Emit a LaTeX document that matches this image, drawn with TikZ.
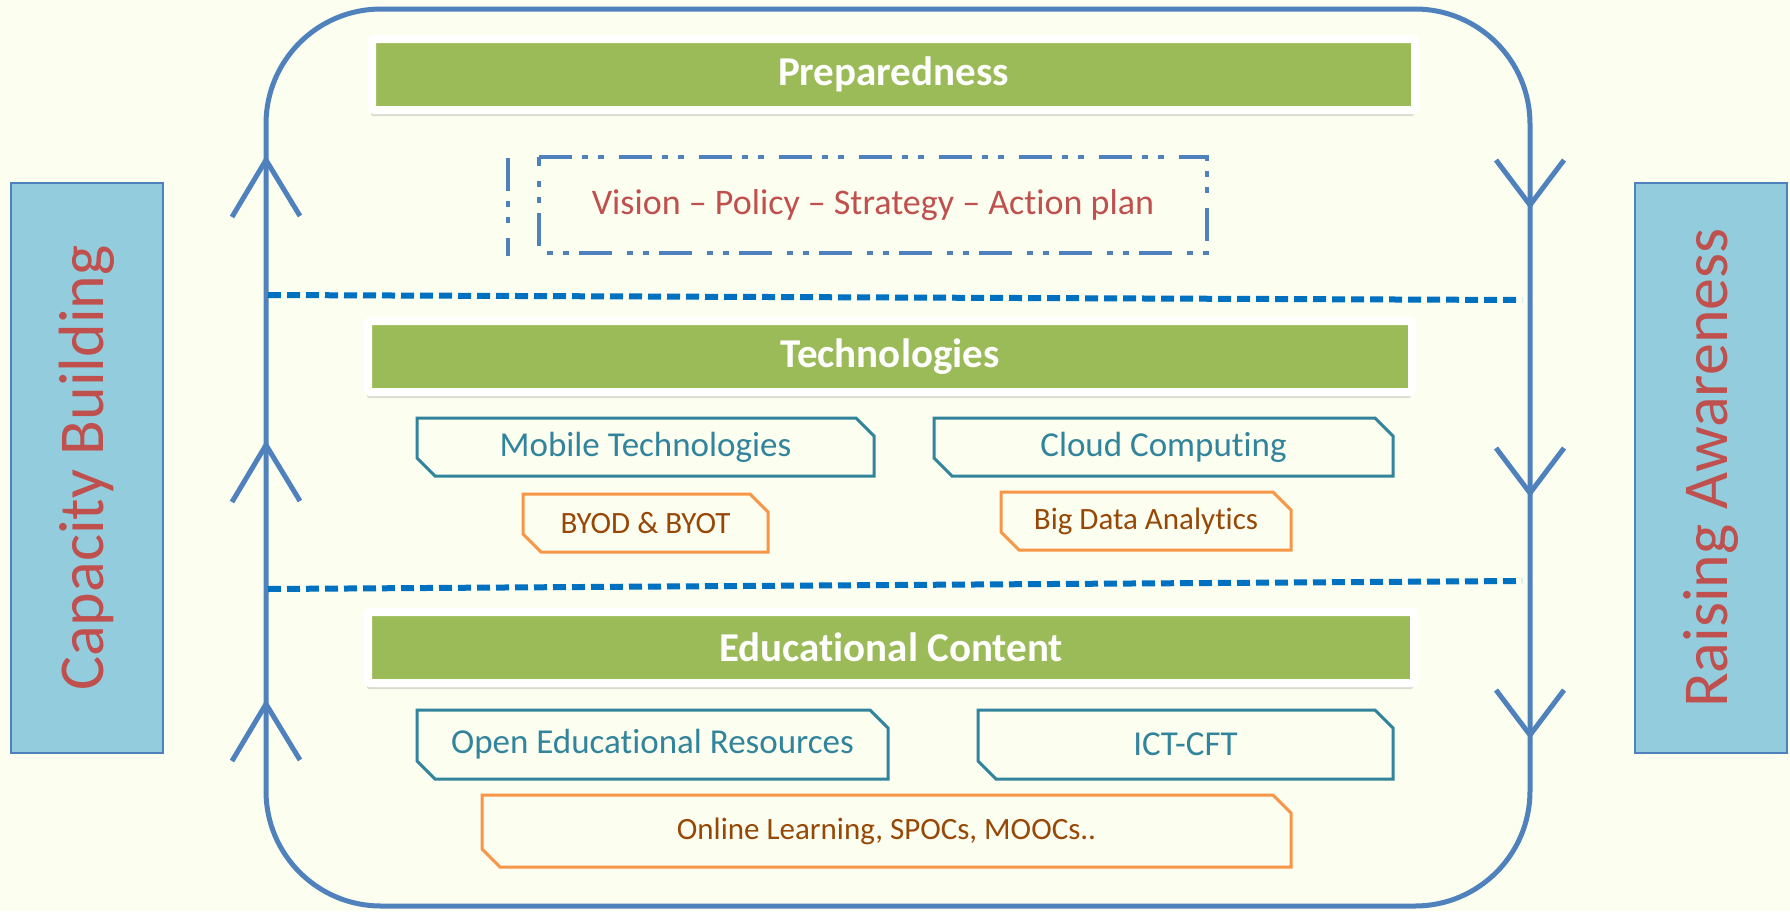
\documentclass[tikz,border=0pt]{standalone}
\usepackage{fontspec}
\setmainfont{Carlito}[RawFeature={-liga;-clig;-calt;-dlig;-rlig}]
\usetikzlibrary{shapes.misc,shadows}
\definecolor{bgc}{RGB}{252,254,240}
\definecolor{frameblue}{RGB}{79,129,189}
\definecolor{dashblue}{RGB}{0,112,192}
\definecolor{hdrgreen}{RGB}{155,187,89}
\definecolor{tealc}{RGB}{49,132,155}
\definecolor{orng}{RGB}{247,150,70}
\definecolor{brwn}{RGB}{151,72,6}
\definecolor{redtxt}{RGB}{192,80,77}
\definecolor{sidefill}{RGB}{147,205,221}
\tikzset{
  sidebar/.style={fill=sidefill, draw=frameblue, line width=2pt, minimum width=570pt, minimum height=152pt,
    rotate=90, text=redtxt, font=\fontsize{64}{72}\selectfont, inner sep=0pt},
  hdr/.style={fill=hdrgreen, draw=white, line width=8pt, minimum height=71pt, text=white,
    font=\fontsize{41}{49}\selectfont\bfseries, inner sep=0pt, rounded corners=2pt,
    drop shadow={shadow xshift=-1pt, shadow yshift=-6pt, opacity=0.22, fill=black!60}},
  chamf/.style={chamfered rectangle, chamfered rectangle corners={north east,south west},
    chamfered rectangle xsep=9pt, chamfered rectangle ysep=9pt, inner sep=0pt, line width=3pt},
  tealbox/.style={chamf, draw=tealc, text=tealc, font=\fontsize{35}{42}\selectfont},
  orangebox/.style={chamf, draw=orng, text=brwn, font=\fontsize{31}{37}\selectfont},
  sepline/.style={draw=dashblue, line width=6pt, dash pattern=on 13pt off 6pt},
  frameline/.style={draw=frameblue, line width=5pt},
  chev/.style={draw=frameblue, line width=5pt, line join=miter},
  dashdot/.style={draw=frameblue, line width=4pt, dash pattern=on 33pt off 10pt on 6pt off 10pt on 6pt off 15pt}
}
\begin{document}
\begin{tikzpicture}[x=1pt,y=-1pt]
\useasboundingbox (0,0) rectangle (1790,911);
\fill[bgc] (0,0) rectangle (1790,911);

% main rounded frame
\draw[frameline, rounded corners=115pt] (266,9) rectangle (1530,906);

% side bars
\node[sidebar] (cb) at (87,468) {Capacity Building};
\node[sidebar] (ra) at (1711,468) {Raising Awareness};

% separators
\coordinate (s1a) at (268,295); \coordinate (s1b) at (1522,300);
\coordinate (s2a) at (268,589); \coordinate (s2b) at (1522,581);
\draw[sepline] (s1a) -- (s1b);
\draw[sepline] (s2a) -- (s2b);

% chevrons on the left (up)
\foreach \y in {160,445,704}{
  \draw[chev] (232,{\y+57}) -- (266,\y) -- (300,{\y+56});
}
% chevrons on the right (down)
\foreach \y in {205,493,735}{
  \draw[chev] (1496,{\y-45}) -- (1530,\y) -- (1564,{\y-45});
}

% headers
\node[hdr, minimum width=1043pt] (prep) at (893.5,74.5) {Preparedness};
\node[hdr, minimum width=1044pt] (tech) at (890,356.5) {Technologies};
\node[hdr, minimum width=1046pt] (edu) at (891,647.5) {Educational Content};

% preparedness content
\node[draw=none, text=redtxt, font=\fontsize{36}{43}\selectfont, minimum width=668pt, minimum height=96pt, inner sep=0pt] (vis) at (873,205) {Vision – Policy – Strategy – Action plan};
\draw[dashdot] (vis.north west) -- (vis.north east) -- (vis.south east) -- (vis.south west) -- cycle;
\coordinate (st1) at (508,158); \coordinate (st2) at (508,256);
\draw[dashdot] (st1) -- (st2);

% technologies content
\node[tealbox, minimum width=457pt, minimum height=58pt] (mob) at (645.5,447) {Mobile Technologies};
\node[tealbox, minimum width=459pt, minimum height=58pt] (cloud) at (1163.5,447) {Cloud Computing};
\node[orangebox, minimum width=245pt, minimum height=58pt] (byod) at (645.5,523) {BYOD \& BYOT};
\node[orangebox, minimum width=290pt, minimum height=58pt] (bda) at (1146,521) {Big Data Analytics};

% educational content
\node[tealbox, minimum width=471pt, minimum height=69pt] (oer) at (652.5,744.5) {Open Educational Resources};
\node[tealbox, minimum width=415pt, minimum height=69pt] (ict) at (1185.5,744.5) {ICT-CFT};
\node[orangebox, minimum width=809pt, minimum height=72pt] (onl) at (886.5,831) {Online Learning, SPOCs, MOOCs..};
\end{tikzpicture}
\end{document}
